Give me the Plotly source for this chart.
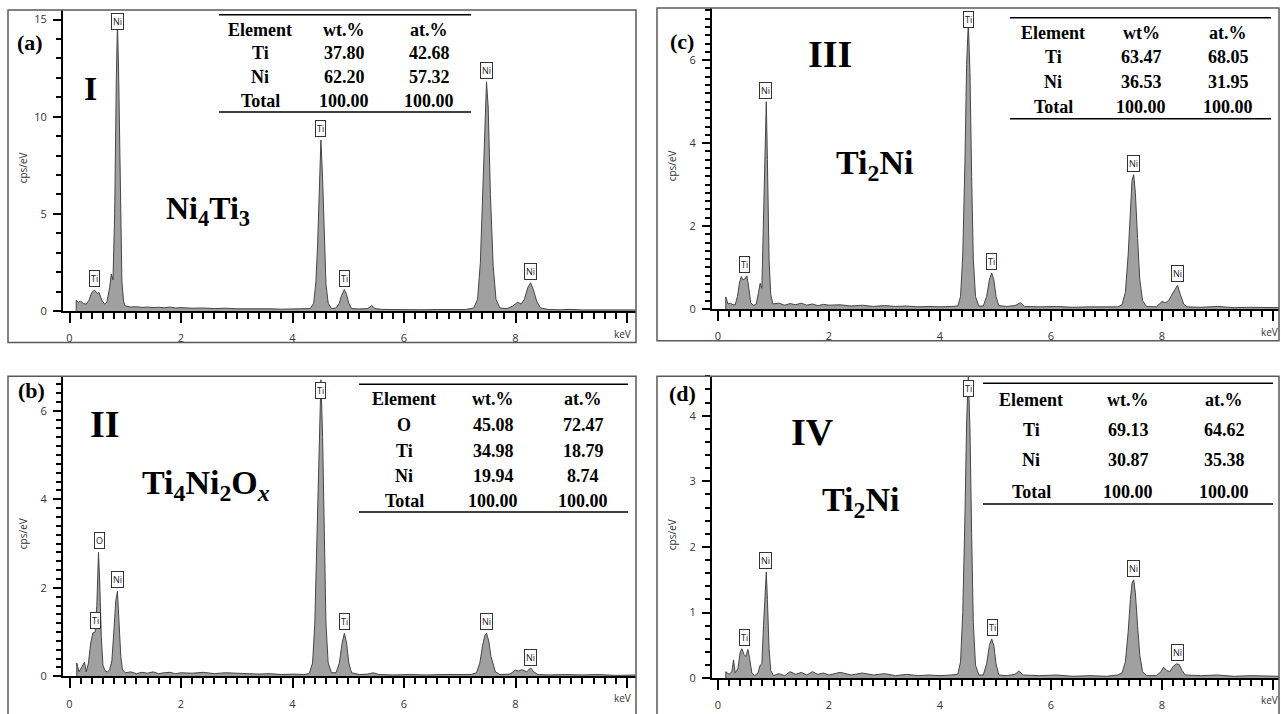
import plotly.graph_objects as go

# ---------------- data ----------------
# Panel (a)  Ni4Ti3 spectrum (energy keV, cps/eV)
kev_a = [0.12, 0.12, 0.16, 0.20, 0.25, 0.30, 0.35, 0.40, 0.45, 0.50, 0.53, 0.58, 0.63, 0.67, 0.72, 0.75, 0.78,
         0.81, 0.84, 0.86, 0.88, 0.91, 0.94, 0.97, 1.00, 1.1, 1.2, 1.3, 1.4, 1.5, 1.6, 1.7, 1.8, 1.9, 2.0, 2.2,
         2.4, 2.6, 2.8, 3.0, 3.2, 3.4, 3.6, 3.8, 4.0, 4.2, 4.32, 4.38, 4.42, 4.45, 4.48, 4.51, 4.54, 4.57, 4.60,
         4.64, 4.70, 4.78, 4.84, 4.88, 4.93, 4.97, 5.01, 5.06, 5.2, 5.35, 5.42, 5.48, 5.6, 5.8, 6.0, 6.3, 6.6,
         6.9, 7.1, 7.25, 7.32, 7.37, 7.42, 7.46, 7.48, 7.51, 7.55, 7.60, 7.65, 7.72, 7.85, 7.95, 8.04, 8.10,
         8.16, 8.22, 8.27, 8.32, 8.38, 8.45, 8.6, 8.8, 9.0, 9.2, 9.5, 9.8, 10.15]
cps_a = [0.0, 0.55, 0.45, 0.50, 0.38, 0.35, 0.55, 0.95, 1.07, 0.90, 0.95, 0.55, 0.35, 0.45, 1.2, 1.9, 1.6,
         5.0, 12.0, 14.8, 12.5, 5.5, 1.5, 0.5, 0.25, 0.20, 0.22, 0.18, 0.20, 0.17, 0.19, 0.16, 0.20, 0.15, 0.17,
         0.14, 0.15, 0.12, 0.14, 0.11, 0.12, 0.10, 0.11, 0.09, 0.10, 0.09, 0.12, 0.4, 1.5, 3.4, 6.5, 8.8, 6.8,
         3.5, 1.4, 0.4, 0.12, 0.15, 0.4, 0.8, 1.1, 0.85, 0.4, 0.12, 0.10, 0.12, 0.28, 0.12, 0.08, 0.07, 0.08,
         0.06, 0.07, 0.06, 0.07, 0.15, 0.6, 2.5, 7.0, 11.0, 11.8, 10.5, 6.0, 2.3, 0.6, 0.15, 0.12, 0.25, 0.45,
         0.35, 0.6, 1.2, 1.45, 1.1, 0.5, 0.15, 0.07, 0.06, 0.08, 0.05, 0.06, 0.05, 0.05]

# Panel (b)  Ti4Ni2Ox spectrum
kev_b = [0.13, 0.13, 0.17, 0.22, 0.27, 0.30, 0.34, 0.38, 0.42, 0.46, 0.49, 0.52, 0.54, 0.57, 0.60, 0.64, 0.68,
         0.72, 0.76, 0.80, 0.83, 0.86, 0.89, 0.92, 0.95, 1.00, 1.1, 1.2, 1.3, 1.4, 1.5, 1.6, 1.7, 1.8, 1.9, 2.0,
         2.2, 2.4, 2.6, 2.8, 3.0, 3.2, 3.4, 3.6, 3.8, 4.0, 4.2, 4.3, 4.36, 4.40, 4.44, 4.48, 4.51, 4.54, 4.57,
         4.60, 4.64, 4.70, 4.78, 4.84, 4.89, 4.93, 4.97, 5.01, 5.06, 5.2, 5.35, 5.45, 5.55, 5.8, 6.1, 6.4, 6.7,
         7.0, 7.2, 7.30, 7.36, 7.41, 7.45, 7.48, 7.52, 7.56, 7.60, 7.64, 7.72, 7.9, 8.0, 8.05, 8.12, 8.2, 8.27,
         8.33, 8.4, 8.6, 8.9, 9.2, 9.5, 9.8, 10.15]
cps_b = [0.0, 0.30, 0.10, 0.22, 0.32, 0.10, 0.30, 0.75, 0.98, 1.00, 1.6, 2.8, 2.2, 0.9, 0.25, 0.12, 0.10,
         0.14, 0.35, 1.1, 1.7, 1.92, 1.3, 0.45, 0.15, 0.08, 0.10, 0.06, 0.09, 0.07, 0.10, 0.06, 0.08, 0.09,
         0.06, 0.08, 0.07, 0.09, 0.06, 0.08, 0.07, 0.06, 0.05, 0.06, 0.04, 0.05, 0.04, 0.06, 0.3, 1.2, 3.2,
         5.6, 6.7, 5.4, 3.0, 1.2, 0.3, 0.08, 0.08, 0.3, 0.75, 0.97, 0.75, 0.3, 0.08, 0.04, 0.05, 0.08, 0.04,
         0.03, 0.04, 0.03, 0.04, 0.03, 0.04, 0.08, 0.3, 0.7, 0.92, 0.97, 0.8, 0.45, 0.3, 0.1, 0.04, 0.05, 0.14,
         0.12, 0.15, 0.10, 0.19, 0.10, 0.04, 0.03, 0.04, 0.03, 0.04, 0.02, 0.03]

# Panel (c)  Ti2Ni spectrum (III)
kev_c = [0.14, 0.14, 0.18, 0.22, 0.27, 0.31, 0.35, 0.39, 0.42, 0.45, 0.48, 0.52, 0.55, 0.59, 0.64, 0.69, 0.73,
         0.76, 0.79, 0.82, 0.85, 0.87, 0.89, 0.92, 0.95, 0.99, 1.1, 1.2, 1.3, 1.4, 1.5, 1.6, 1.7, 1.8, 1.9, 2.0,
         2.2, 2.4, 2.6, 2.8, 3.0, 3.2, 3.4, 3.6, 3.8, 4.0, 4.2, 4.32, 4.37, 4.41, 4.45, 4.48, 4.51, 4.54, 4.57,
         4.60, 4.64, 4.70, 4.78, 4.84, 4.89, 4.93, 4.97, 5.01, 5.06, 5.2, 5.35, 5.45, 5.52, 5.8, 6.1, 6.4, 6.7,
         7.0, 7.2, 7.28, 7.34, 7.39, 7.43, 7.46, 7.49, 7.52, 7.56, 7.60, 7.65, 7.72, 7.9, 8.0, 8.06, 8.12, 8.18,
         8.24, 8.28, 8.33, 8.39, 8.45, 8.7, 9.0, 9.3, 9.6, 10.12]
cps_c = [0.0, 0.29, 0.12, 0.14, 0.10, 0.10, 0.30, 0.65, 0.78, 0.70, 0.72, 0.80, 0.55, 0.15, 0.08, 0.12, 0.40,
         0.62, 0.50, 2.2, 4.6, 5.0, 3.6, 1.2, 0.35, 0.12, 0.14, 0.09, 0.13, 0.10, 0.14, 0.09, 0.12, 0.08, 0.11,
         0.09, 0.10, 0.07, 0.09, 0.06, 0.08, 0.06, 0.07, 0.05, 0.06, 0.05, 0.06, 0.07, 0.3, 1.3, 3.6, 5.9, 6.9,
         5.7, 3.2, 1.2, 0.3, 0.07, 0.07, 0.3, 0.7, 0.87, 0.7, 0.3, 0.08, 0.06, 0.08, 0.15, 0.06, 0.05, 0.06,
         0.04, 0.05, 0.04, 0.05, 0.10, 0.4, 1.3, 2.5, 3.1, 3.24, 2.8, 1.7, 0.7, 0.2, 0.06, 0.05, 0.18, 0.15,
         0.20, 0.35, 0.50, 0.57, 0.35, 0.12, 0.05, 0.04, 0.06, 0.03, 0.04, 0.03]

# Panel (d)  Ti2Ni spectrum (IV)
kev_d = [0.14, 0.14, 0.20, 0.25, 0.28, 0.31, 0.36, 0.40, 0.43, 0.47, 0.50, 0.54, 0.57, 0.61, 0.66, 0.72, 0.76,
         0.79, 0.82, 0.85, 0.87, 0.89, 0.92, 0.95, 1.00, 1.1, 1.2, 1.3, 1.4, 1.5, 1.6, 1.7, 1.8, 1.9, 2.0, 2.2,
         2.4, 2.6, 2.8, 3.0, 3.2, 3.4, 3.6, 3.8, 4.0, 4.2, 4.32, 4.37, 4.41, 4.45, 4.48, 4.51, 4.54, 4.57, 4.60,
         4.64, 4.70, 4.78, 4.84, 4.89, 4.93, 4.97, 5.01, 5.06, 5.2, 5.35, 5.42, 5.5, 5.8, 6.1, 6.4, 6.7, 7.0,
         7.2, 7.28, 7.34, 7.39, 7.43, 7.46, 7.49, 7.52, 7.56, 7.60, 7.65, 7.72, 7.9, 7.98, 8.03, 8.08, 8.14,
         8.2, 8.26, 8.31, 8.36, 8.42, 8.7, 9.0, 9.3, 9.6, 10.12]
cps_d = [0.0, 0.10, 0.06, 0.10, 0.28, 0.08, 0.15, 0.40, 0.45, 0.36, 0.33, 0.44, 0.30, 0.08, 0.04, 0.08, 0.20,
         0.22, 0.80, 1.45, 1.62, 1.20, 0.45, 0.12, 0.04, 0.07, 0.04, 0.10, 0.06, 0.09, 0.05, 0.10, 0.06, 0.08,
         0.05, 0.09, 0.05, 0.08, 0.05, 0.07, 0.04, 0.06, 0.04, 0.05, 0.04, 0.05, 0.06, 0.25, 1.0, 2.5, 3.9,
         4.6, 3.8, 2.2, 0.85, 0.2, 0.05, 0.05, 0.22, 0.5, 0.6, 0.5, 0.22, 0.05, 0.04, 0.06, 0.11, 0.05, 0.04,
         0.05, 0.03, 0.04, 0.03, 0.05, 0.08, 0.25, 0.7, 1.2, 1.45, 1.5, 1.3, 0.8, 0.35, 0.1, 0.04, 0.04, 0.10,
         0.17, 0.12, 0.10, 0.18, 0.22, 0.21, 0.12, 0.05, 0.04, 0.05, 0.03, 0.04, 0.03]

# Peak labels: element, energy, cps at the label tip
lab_a = [("Ti", 0.45, 1.07), ("Ni", 0.86, 14.3), ("Ti", 4.51, 8.8), ("Ti", 4.93, 1.1), ("Ni", 7.48, 11.8), ("Ni", 8.27, 1.45)]
lab_b = [("Ti", 0.47, 1.0), ("O", 0.54, 2.8), ("Ni", 0.86, 1.92), ("Ti", 4.51, 6.2), ("Ti", 4.93, 0.97), ("Ni", 7.48, 0.97), ("Ni", 8.27, 0.17)]
lab_c = [("Ti", 0.47, 0.8), ("Ni", 0.86, 5.0), ("Ti", 4.51, 6.7), ("Ti", 4.93, 0.87), ("Ni", 7.48, 3.24), ("Ni", 8.28, 0.57)]
lab_d = [("Ti", 0.47, 0.45), ("Ni", 0.86, 1.62), ("Ti", 4.51, 4.24), ("Ti", 4.94, 0.6), ("Ni", 7.48, 1.5), ("Ni", 8.28, 0.22)]

# Composition tables
tab_head_a = ["Element", "wt.%", "at.%"]
tab_rows_a = [["Ti", "37.80", "42.68"], ["Ni", "62.20", "57.32"], ["Total", "100.00", "100.00"]]
tab_head_b = ["Element", "wt.%", "at.%"]
tab_rows_b = [["O", "45.08", "72.47"], ["Ti", "34.98", "18.79"], ["Ni", "19.94", "8.74"], ["Total", "100.00", "100.00"]]
tab_head_c = ["Element", "wt%", "at.%"]
tab_rows_c = [["Ti", "63.47", "68.05"], ["Ni", "36.53", "31.95"], ["Total", "100.00", "100.00"]]
tab_head_d = ["Element", "wt.%", "at.%"]
tab_rows_d = [["Ti", "69.13", "64.62"], ["Ni", "30.87", "35.38"], ["Total", "100.00", "100.00"]]

x_tickvals = [0, 2, 4, 6, 8, 10]
x_ticktext = ["0", "2", "4", "6", "8", ""]
x_unit = "keV"

# ---------------- layout helpers ----------------
W, H = 1281, 714


def PX(x):
    return x / W


def PY(y):
    return 1 - y / H


SERIF = "Times New Roman, Liberation Serif, serif"
SANS = "Open Sans, Segoe UI, DejaVu Sans, sans-serif"

fig = go.Figure()

panels = [
    dict(kev=kev_a, cps=cps_a, lab=lab_a, xs="", xpx=(63, 636), ypx=(314, 10), x0=69.5, kpx=55.75,
         ytop=15.5, ydt=5, ymin=1, frame=(8, 10, 636, 346), unit=(622, 337)),
    dict(kev=kev_c, cps=cps_c, lab=lab_c, xs="2", xpx=(712, 1279), ypx=(312, 8), x0=718, kpx=55.5,
         ytop=7.26, ydt=2, ymin=0.2, frame=(657, 8, 1279, 344), unit=(1269, 335)),
    dict(kev=kev_b, cps=cps_b, lab=lab_b, xs="3", xpx=(63, 636), ypx=(683, 380), x0=69.5, kpx=55.75,
         ytop=6.78, ydt=2, ymin=0.2, frame=(8, 380, 636, 730), unit=(622, 705)),
    dict(kev=kev_d, cps=cps_d, lab=lab_d, xs="4", xpx=(712, 1279), ypx=(685, 380), x0=718, kpx=55.5,
         ytop=4.6, ydt=1, ymin=0.2, frame=(657, 380, 1279, 730), unit=(1269, 707)),
]

shapes = []
annotations = []

for p in panels:
    s = p["xs"]
    fig.add_trace(go.Scatter(x=p["kev"], y=p["cps"], mode="lines", fill="tozeroy",
                             fillcolor="#a0a0a0", line=dict(color="#454545", width=1),
                             xaxis="x" + s, yaxis="y" + s, hoverinfo="skip"))
    xa = dict(domain=[PX(p["xpx"][0]), PX(p["xpx"][1])],
              range=[(p["xpx"][0] - p["x0"]) / p["kpx"], (p["xpx"][1] - p["x0"]) / p["kpx"]],
              anchor="y" + s, showline=True, linecolor="black", linewidth=2,
              ticks="outside", ticklen=10, tickwidth=1.6, tickcolor="black",
              tickmode="array", tickvals=x_tickvals, ticktext=x_ticktext,
              minor=dict(ticks="outside", ticklen=6, tickwidth=1.6, tickcolor="black",
                         tickmode="linear", tick0=0, dtick=0.2),
              showgrid=False, zeroline=False, ticklabelstandoff=6,
              tickfont=dict(family=SANS, size=11, color="#333"))
    ya = dict(domain=[PY(p["ypx"][0]), PY(p["ypx"][1])], range=[0, p["ytop"]],
              anchor="x" + s, showline=True, linecolor="black", linewidth=2,
              ticks="outside", ticklen=8, tickwidth=1.6, tickcolor="black",
              tickmode="linear", tick0=0, dtick=p["ydt"],
              minor=dict(ticks="outside", ticklen=5, tickwidth=1.6, tickcolor="black",
                         tickmode="linear", tick0=0, dtick=p["ymin"]),
              showgrid=False, zeroline=False, ticklabelstandoff=4,
              tickfont=dict(family=SANS, size=11, color="#333"))
    fig.layout["xaxis" + s] = xa
    fig.layout["yaxis" + s] = ya

    fx0, fy0, fx1, fy1 = p["frame"]
    shapes.append(dict(type="rect", xref="paper", yref="paper", x0=PX(fx0), x1=PX(fx1),
                       y0=PY(fy1), y1=PY(fy0), line=dict(color="#5a5a5a", width=1.5)))
    # keV unit label at the end of the energy axis
    annotations.append(dict(xref="paper", yref="paper", x=PX(p["unit"][0]), y=PY(p["unit"][1]),
                            xanchor="center", yanchor="middle", text=x_unit, showarrow=False,
                            font=dict(family=SANS, size=10, color="#333")))
    # cps/eV title
    annotations.append(dict(xref="paper", yref="paper", x=PX(fx0 + 15), y=PY((p["ypx"][0] + p["ypx"][1]) / 2 + 8),
                            xanchor="center", yanchor="middle",
                            text="cps/eV", textangle=-90, showarrow=False,
                            font=dict(family=SANS, size=10, color="#333")))
    for el, ex, ey in p["lab"]:
        annotations.append(dict(x=ex, y=ey, xref="x" + s, yref="y" + s, text=el, showarrow=False,
                                xanchor="center", yanchor="bottom", yshift=3, bgcolor="white",
                                bordercolor="#333", borderwidth=1, borderpad=1,
                                font=dict(family=SANS, size=9, color="#222")))


def table(head, rows, xcols, yrows, xline, ytop, ybot, size=18):
    allrows = [head] + rows
    for i, r in enumerate(allrows):
        for j, t in enumerate(r):
            annotations.append(dict(xref="paper", yref="paper", x=PX(xcols[j]), y=PY(yrows[i]),
                                    xanchor="center", yanchor="middle",
                                    text="<b>%s</b>" % t, showarrow=False,
                                    font=dict(family=SERIF, size=size, color="black")))
    for yy in (ytop, ybot):
        shapes.append(dict(type="line", xref="paper", yref="paper", x0=PX(xline[0]), x1=PX(xline[1]),
                           y0=PY(yy), y1=PY(yy), line=dict(color="black", width=1.5)))


table(tab_head_a, tab_rows_a, [260, 344, 429], [30, 54, 78, 102], (219, 471), 15, 113)
table(tab_head_c, tab_rows_c, [1053, 1141, 1228], [33, 58, 83, 108], (1010, 1271), 18, 120)
table(tab_head_b, tab_rows_b, [404, 493, 583], [403, 429, 455, 481, 506], (359, 628), 388, 517)
table(tab_head_d, tab_rows_d, [1031, 1128, 1224], [404, 434, 465, 497], (983, 1273), 387, 509)


def big(text, x, y, size):
    annotations.append(dict(xref="paper", yref="paper", x=PX(x), y=PY(y), text="<b>%s</b>" % text,
                            xanchor="center", yanchor="middle",
                            showarrow=False, font=dict(family=SERIF, size=size, color="black")))


big("(a)", 30, 43, 22)
big("I", 90, 89, 34)
big("Ni<sub>4</sub>Ti<sub>3</sub>", 208, 213, 32)
big("(c)", 682, 42, 22)
big("III", 830, 55, 38)
big("Ti<sub>2</sub>Ni", 874, 167, 34)
big("(b)", 31, 394, 22)
big("II", 105, 428, 38)
big("Ti<sub>4</sub>Ni<sub>2</sub>O<sub><i>x</i></sub>", 206, 490, 34)
big("(d)", 682, 397, 22)
big("IV", 812, 436, 38)
big("Ti<sub>2</sub>Ni", 860, 507, 34)

fig.update_layout(width=W, height=H, margin=dict(l=0, r=0, t=0, b=0),
                  paper_bgcolor="white", plot_bgcolor="white", showlegend=False,
                  shapes=shapes, annotations=annotations)

fig.write_html("out.html")
